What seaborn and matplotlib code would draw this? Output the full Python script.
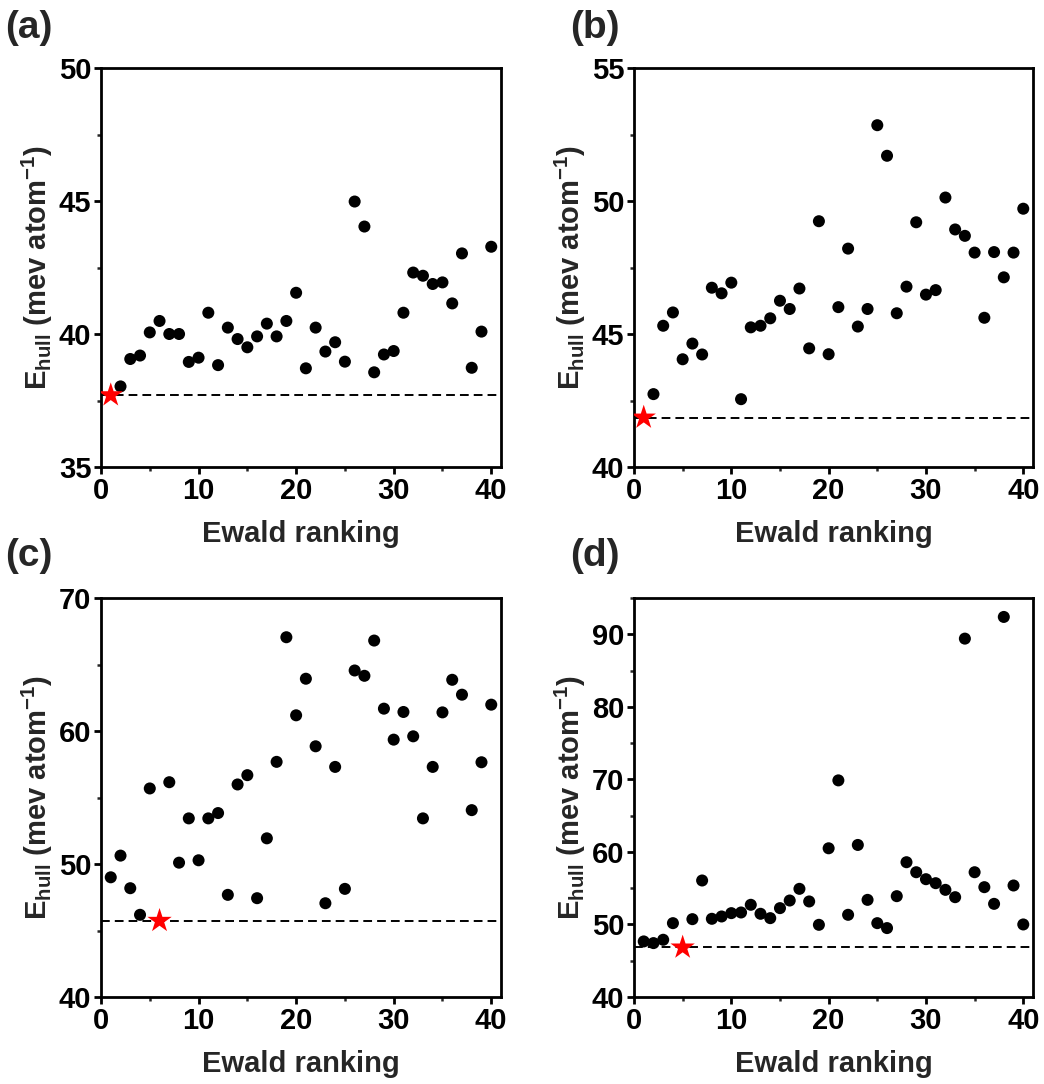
import matplotlib
matplotlib.use("Agg")
import matplotlib.pyplot as plt
import seaborn as sns
import pandas as pd
from matplotlib.ticker import MultipleLocator

# ---------------- data ----------------
ranking = list(range(1, 41))

ehull_a = [37.70, 38.03, 39.06, 39.19, 40.06, 40.49, 40.00, 40.00, 38.95, 39.11,
           40.80, 38.83, 40.24, 39.81, 39.50, 39.91, 40.39, 39.91, 40.49, 41.55,
           38.71, 40.24, 39.34, 39.69, 38.96, 44.98, 44.04, 38.56, 39.23, 39.36,
           40.80, 42.31, 42.19, 41.88, 41.94, 41.15, 43.03, 38.73, 40.09, 43.28]
ehull_b = [41.86, 42.74, 45.31, 45.81, 44.05, 44.64, 44.23, 46.74, 46.53, 46.93,
           42.55, 45.25, 45.31, 45.59, 46.25, 45.94, 46.71, 44.46, 49.24, 44.24,
           46.01, 48.21, 45.28, 45.94, 52.85, 51.70, 45.78, 46.78, 49.20, 46.48,
           46.65, 50.13, 48.93, 48.69, 48.06, 45.61, 48.08, 47.13, 48.06, 49.71]
ehull_c = [49.00, 50.63, 48.18, 46.18, 55.68, 45.73, 56.15, 50.10, 53.43, 50.28,
           53.43, 53.83, 47.68, 55.98, 56.68, 47.43, 51.93, 57.68, 67.05, 61.18,
           63.93, 58.85, 47.05, 57.30, 48.13, 64.55, 64.15, 66.80, 61.68, 59.35,
           61.43, 59.60, 53.43, 57.30, 61.40, 63.85, 62.73, 54.05, 57.65, 61.98]
ehull_d = [47.66, 47.43, 47.89, 50.18, 46.83, 50.73, 56.06, 50.78, 51.10, 51.56,
           51.65, 52.71, 51.47, 50.87, 52.25, 53.30, 54.91, 53.17, 49.95, 60.50,
           69.86, 51.33, 60.96, 53.39, 50.18, 49.50, 53.90, 58.58, 57.20, 56.24,
           55.69, 54.77, 53.76, 89.40, 57.20, 55.14, 52.84, 92.39, 55.37, 50.00]

star_rank_a = 1
star_rank_b = 1
star_rank_c = 6
star_rank_d = 5

panel_labels = ["(a)", "(b)", "(c)", "(d)"]
ylims = [(35, 50), (40, 55), (40, 70), (40, 95)]
ymajor = [5, 5, 10, 10]
xlabel = "Ewald ranking"
ylabel = r"E$_{\mathrm{hull}}$ (mev atom$^{\mathrm{-1}}$)"

# ---------------- style ----------------
sns.set_style("ticks")
plt.rcParams["font.family"] = ["Liberation Sans", "DejaVu Sans"]
plt.rcParams["font.weight"] = "bold"
plt.rcParams["mathtext.fontset"] = "custom"
plt.rcParams["mathtext.rm"] = "Liberation Sans:bold"
plt.rcParams["mathtext.bf"] = "Liberation Sans:bold"
plt.rcParams["mathtext.it"] = "Liberation Sans:bold"
plt.rcParams["mathtext.default"] = "rm"

W, H = 1044, 1084
fig = plt.figure(figsize=(W / 100, H / 100), dpi=100)

# axes boxes in pixels: left, top, width, height
boxes = [(101, 68, 400, 399), (634, 68, 399, 399),
         (101, 598, 400, 399), (634, 598, 399, 399)]
label_pos = [(5, 10), (570, 10), (5, 538), (570, 538)]

datasets = [ehull_a, ehull_b, ehull_c, ehull_d]
stars = [star_rank_a, star_rank_b, star_rank_c, star_rank_d]

for i in range(4):
    l, t, w, h = boxes[i]
    ax = fig.add_axes([l / W, 1 - (t + h) / H, w / W, h / H])
    df = pd.DataFrame({"rank": ranking, "ehull": datasets[i]})
    dots = df[df["rank"] != stars[i]]
    star = df[df["rank"] == stars[i]]
    ref = float(star["ehull"].iloc[0])
    ax.axhline(ref, color="black", lw=1.4, dashes=(4.5, 2.6), zorder=1)
    sns.scatterplot(data=dots, x="rank", y="ehull", ax=ax, color="black",
                    s=75, edgecolor="none", zorder=3)
    sns.scatterplot(data=star, x="rank", y="ehull", ax=ax, color="#ff0000",
                    marker="*", s=340, edgecolor="none", zorder=4)
    ax.set_xlim(0, 41)
    ax.set_ylim(*ylims[i])
    ax.xaxis.set_major_locator(MultipleLocator(10))
    ax.xaxis.set_minor_locator(MultipleLocator(5))
    ax.yaxis.set_major_locator(MultipleLocator(ymajor[i]))
    ax.yaxis.set_minor_locator(MultipleLocator(ymajor[i] / 2))
    for sp in ax.spines.values():
        sp.set_visible(True)
        sp.set_linewidth(2.0)
        sp.set_color("black")
    ax.tick_params(which="major", direction="out", length=5, width=2.0,
                   labelsize=21, pad=2, colors="black")
    ax.tick_params(which="minor", direction="out", length=3, width=1.8)
    for lab in ax.get_xticklabels() + ax.get_yticklabels():
        lab.set_fontweight("bold")
    ax.set_xlabel(xlabel, fontsize=21, fontweight="bold", labelpad=11)
    ax.set_ylabel(ylabel, fontsize=21, fontweight="bold", labelpad=3)
    px, py = label_pos[i]
    fig.text(px / W, 1 - py / H, panel_labels[i], fontsize=28,
             fontweight="bold", ha="left", va="top")

fig.savefig("out.png", dpi=100)
